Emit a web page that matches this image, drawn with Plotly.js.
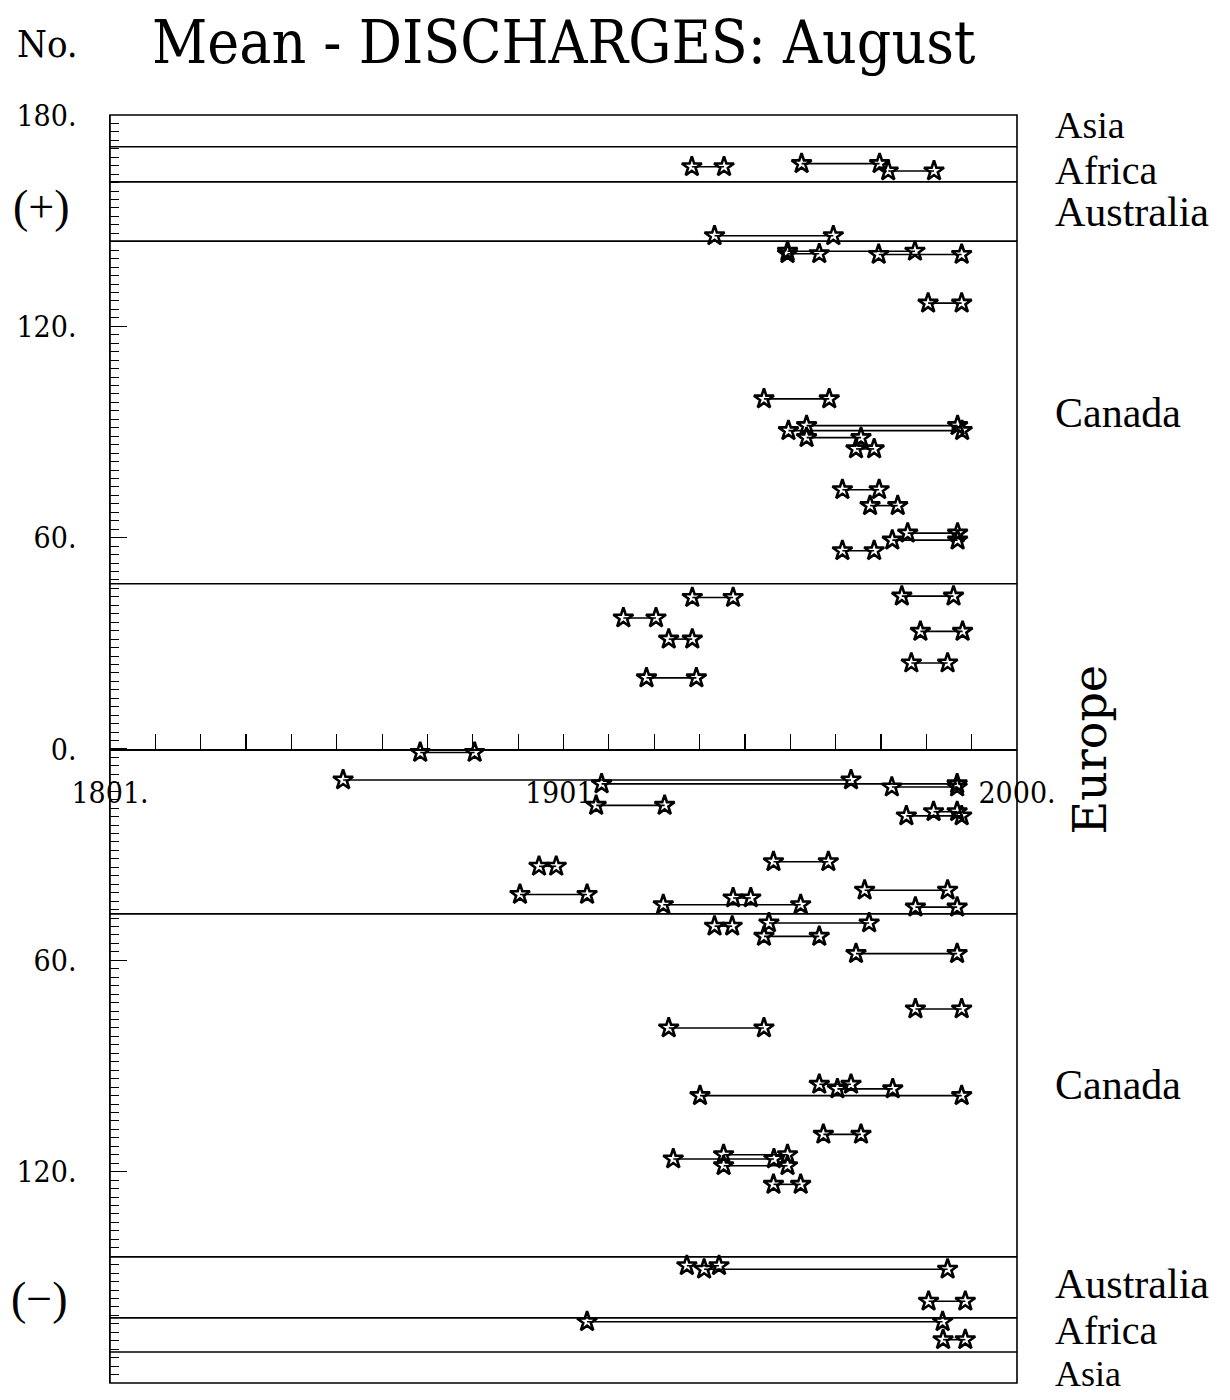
<!DOCTYPE html>
<html>
<head>
<meta charset="utf-8">
<script src="https://cdn.plot.ly/plotly-3.0.1.min.js"></script>
<style>html,body{margin:0;padding:0;background:#fff;}</style>
</head>
<body>
<div id="chart" style="width:1230px;height:1400px;"></div>
<script>
// ---- data: each row is one record period (start year, end year, station No.; negative = lower half) ----
const segStart = [1928.3,1952.5,1971.6, 1933.3,
  1949.4,1949.4,1969.5,1980.4,1944.2,1949.6,1953.6,1953.6,1964.5,1961.5,1967.6,1975.9,1972.5,1961.5,
  1928.4,1974.6,1913.2,1923.2,1978.7,1918.3,1976.7,
  1868.4,1851.4,1908.4,1972.4,1907.2,1975.6,1981.6,1946.3,1894.6,1890.4,1966.4,1922.0,1937.4,1977.6,
  1933.3,1945.3,1944.2,1964.5,1977.6,1923.2,1956.4,1960.4,1930.1,1957.3,1924.2,1935.3,1935.3,1946.3,
  1927.2,1931.0,1980.5, 1905.2,1983.7];
const segEnd = [1935.4,1969.7,1981.7, 1959.5,
  1977.5,1956.4,1987.8,1987.8,1958.6,1987.9,1986.9,1965.6,1968.5,1969.6,1973.7,1986.9,1986.9,1968.5,
  1937.4,1986.0,1920.4,1928.4,1988.0,1929.3,1984.7,
  1880.4,1963.4,1986.8,1986.8,1922.3,1987.8,1986.8,1958.4,1898.4,1905.2,1984.7,1952.3,1941.3,1986.8,
  1937.2,1967.4,1956.4,1986.8,1987.8,1944.2,1963.4,1972.6,1987.8,1965.6,1946.4,1949.4,1949.4,1952.3,
  1934.3,1984.7,1988.6, 1983.6,1988.6];
const segNo = [165.3,166.2,164.1, 145.7,
  141.3,140.6,140.4,126.6,99.4,90.4,91.8,88.4,85.2,73.6,69.1,61.3,59.3,56.3,
  43.0,43.4,37.2,31.2,33.4,20.2,24.4,
  -1.0,-8.8,-9.9,-10.8,-16.0,-19.0,-17.8,-32.0,-33.3,-41.3,-40.1,-44.2,-42.3,-44.9,
  -50.3,-49.4,-53.2,-58.1,-73.8,-79.2,-95.2,-96.5,-98.4,-109.4,-116.4,-115.2,-118.3,-123.6,
  -146.7,-147.7,-156.8, -162.6,-167.7];

// region boundaries (station No.)
const regionBounds = [171, 161, 144.2, 46.9, -46.8, -144.2, -161.5, -171.2];
// region labels
const regionNames = ['Asia','Africa','Australia','Canada','Europe','Canada','Australia','Africa','Asia'];
const regionLabelNo = [177.2, 164.2, 152.4, 95.5, 0, -95.3, -152.0, -165.0, -177.5];
const regionLabelSize = [38, 40, 42, 42, 46, 42, 42, 40, 36];

// axis ticks
const yTickVals = [-180,-120,-60,0,60,120,180];
const yTickText = ['180.','120.','60.','0.','60.','120.','180.'];
const xTickVals = [1800,1900,2000];
const xTickText = ['1801.','1901.','2000.'];

// ---- build traces ----
const lx = [], ly = [];
for (let i = 0; i < segStart.length; i++) {
  lx.push(segStart[i], segEnd[i], null);
  ly.push(segNo[i], segNo[i], null);
}
const traces = [
  {type:'scatter', mode:'lines', x:lx, y:ly, line:{color:'#000', width:1.6}, hoverinfo:'skip', showlegend:false},
  {type:'scatter', mode:'markers', x:segStart.concat(segEnd), y:segNo.concat(segNo),
   marker:{symbol:'star-open', size:15, color:'#000', line:{color:'#000', width:2.6}}, showlegend:false}
];

const condSerif = '"DejaVu Serif Condensed", "DejaVu Serif", serif';
const serif = 'Liberation Serif, Times New Roman, serif';

const shapes = [
  {type:'rect', xref:'paper', yref:'paper', x0:0, x1:1, y0:0, y1:1, line:{color:'#000', width:1.6}, layer:'above'}
];
regionBounds.forEach(v => shapes.push({type:'line', xref:'paper', yref:'y', x0:0, x1:1, y0:v, y1:v, line:{color:'#000', width:1.6}}));

const annotations = [];
regionNames.forEach((n, i) => {
  if (n === 'Europe') {
    annotations.push({xref:'paper', yref:'y', x:1.081, y:regionLabelNo[i], text:n, showarrow:false,
      textangle:-90, xanchor:'center', yanchor:'middle', font:{family:'DejaVu Serif, serif', size:regionLabelSize[i], color:'#000'}});
  } else {
    annotations.push({xref:'paper', yref:'y', x:1.040, y:regionLabelNo[i], text:n, showarrow:false,
      xanchor:'left', yanchor:'middle', font:{family:serif, size:regionLabelSize[i], color:'#000'}});
  }
});
annotations.push({xref:'paper', yref:'y', x:-0.076, y:154, text:'(+)', showarrow:false, xanchor:'center', yanchor:'middle', font:{family:serif, size:46, color:'#000'}});
annotations.push({xref:'paper', yref:'y', x:-0.078, y:-156, text:'(\u2212)', showarrow:false, xanchor:'center', yanchor:'middle', font:{family:serif, size:46, color:'#000'}});
annotations.push({xref:'paper', yref:'paper', x:-0.105, y:1 + (115-44)/1268, text:'No.', showarrow:false, xanchor:'left', yanchor:'middle', font:{family:condSerif, size:38, color:'#000'}});

const layout = {
  width:1230, height:1400,
  margin:{l:110, r:213, t:115, b:17},
  paper_bgcolor:'#fff', plot_bgcolor:'#fff',
  title:{text:'Mean - DISCHARGES: August', xref:'container', yref:'container', x:152/1230, xanchor:'left', y:1-42/1400, yanchor:'middle',
    font:{family:condSerif, size:60, color:'#000'}},
  xaxis:{range:[1800,2000], anchor:'free', position:0.5, showline:true, linecolor:'#000', linewidth:1.5,
    showgrid:false, zeroline:false, tickmode:'array', tickvals:xTickVals, ticktext:xTickText,
    ticks:'inside', ticklen:15, tickwidth:1.2, tickcolor:'#000', ticklabelstandoff:16,
    tickfont:{family:condSerif, size:30, color:'#000'},
    minor:{dtick:10, tick0:1800, ticks:'inside', ticklen:15, tickwidth:1.2, tickcolor:'#000', showgrid:false}},
  yaxis:{range:[-180,180], showline:true, linecolor:'#000', linewidth:1.5, showgrid:false, zeroline:false,
    tickmode:'array', tickvals:yTickVals, ticktext:yTickText,
    ticks:'inside', ticklen:17, tickwidth:1.2, tickcolor:'#000', ticklabelstandoff:26,
    tickfont:{family:condSerif, size:30, color:'#000'},
    minor:{dtick:2.4, tick0:0, ticks:'inside', ticklen:9, tickwidth:1, tickcolor:'#000', showgrid:false}},
  shapes:shapes, annotations:annotations, showlegend:false
};

Plotly.newPlot('chart', traces, layout, {staticPlot:true, displayModeBar:false});
</script>
</body>
</html>
